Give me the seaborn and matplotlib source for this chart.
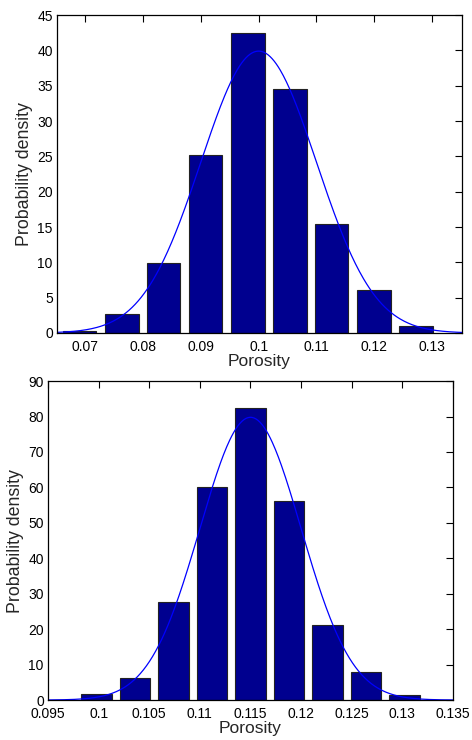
import numpy as np
import pandas as pd
import seaborn as sns
import matplotlib
matplotlib.use("Agg")
import matplotlib.pyplot as plt

sns.set_theme(style="white")
plt.rcParams["font.family"] = ["Liberation Sans", "DejaVu Sans"]

# Upper panel: histogram bin centres and densities, plus fitted normal
top_centers = [0.0690, 0.0763, 0.0836, 0.0908, 0.0981, 0.1054, 0.1127, 0.1199, 0.1272]
top_density = [0.24, 2.7, 9.9, 25.2, 42.4, 34.5, 15.4, 6.1, 1.05]
top_mu, top_sigma = 0.100, 0.0100
top_xlim = (0.0651, 0.1352)
top_xticks = [0.07, 0.08, 0.09, 0.10, 0.11, 0.12, 0.13]
top_xticklabels = ["0.07", "0.08", "0.09", "0.1", "0.11", "0.12", "0.13"]
top_yticks = [0, 5, 10, 15, 20, 25, 30, 35, 40, 45]

# Lower panel
bot_centers = [0.0998, 0.1036, 0.1074, 0.1112, 0.1150, 0.1188, 0.1226, 0.1264, 0.1302]
bot_density = [1.8, 6.1, 27.6, 60.1, 82.3, 56.2, 21.2, 7.8, 1.4]
bot_mu, bot_sigma = 0.115, 0.0050
bot_xlim = (0.095, 0.135)
bot_xticks = [0.095, 0.100, 0.105, 0.110, 0.115, 0.120, 0.125, 0.130, 0.135]
bot_xticklabels = ["0.095", "0.1", "0.105", "0.11", "0.115", "0.12", "0.125", "0.13", "0.135"]
bot_yticks = [0, 10, 20, 30, 40, 50, 60, 70, 80, 90]

BAR_COLOR = "#00008F"
LINE_COLOR = "#0000FF"


def panel(ax, centers, density, mu, sigma, xlim, xticks, xticklabels, yticks):
    centers = np.asarray(centers)
    step = np.mean(np.diff(centers))
    edges = np.append(centers - step / 2, centers[-1] + step / 2).tolist()
    df = pd.DataFrame({"porosity": centers, "density": density})
    sns.histplot(data=df, x="porosity", weights="density", bins=edges,
                 shrink=0.8, stat="count", color=BAR_COLOR, alpha=1.0,
                 edgecolor="#222222", linewidth=0.8, ax=ax)
    xs = np.linspace(xlim[0], xlim[1], 400)
    pdf = np.exp(-0.5 * ((xs - mu) / sigma) ** 2) / (sigma * np.sqrt(2 * np.pi))
    sns.lineplot(x=xs, y=pdf, color=LINE_COLOR, linewidth=0.9, ax=ax)
    ax.set_xlim(*xlim)
    ax.set_ylim(yticks[0], yticks[-1])
    ax.set_xticks(xticks)
    ax.set_xticklabels(xticklabels)
    ax.set_yticks(yticks)
    ax.tick_params(direction="in", length=5, width=0.8, top=True, right=True,
                   labelsize=10, colors="black")
    ax.tick_params(axis="x", pad=5.2)
    ax.tick_params(axis="y", pad=3)
    for s in ax.spines.values():
        s.set_visible(True)
        s.set_color("black")
        s.set_linewidth(0.9)
    ax.set_xlabel("Porosity", fontsize=12.5, labelpad=0)
    ax.set_ylabel("Probability density", fontsize=12.8, labelpad=3)


fig = plt.figure(figsize=(4.72, 7.40), dpi=100)
ax1 = fig.add_axes([0.1208, 0.550, 0.858, 0.4297])
ax2 = fig.add_axes([0.1017, 0.054, 0.858, 0.431])

panel(ax1, top_centers, top_density, top_mu, top_sigma, top_xlim,
      top_xticks, top_xticklabels, top_yticks)
panel(ax2, bot_centers, bot_density, bot_mu, bot_sigma, bot_xlim,
      bot_xticks, bot_xticklabels, bot_yticks)

fig.savefig("out.png", dpi=100, facecolor="white")
